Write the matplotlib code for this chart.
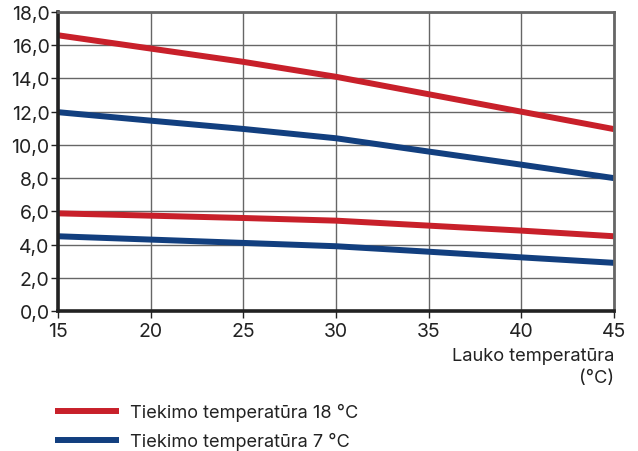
import matplotlib.pyplot as plt

plt.rcParams["font.family"] = ["Inter", "DejaVu Sans"]

# outdoor temperature (x) and the four curves
outdoor_temp = [15, 20, 25, 30, 35, 40, 45]
red_upper = [16.6, 15.8, 15.0, 14.1, 13.05, 12.0, 10.95]
red_lower = [5.88, 5.74, 5.6, 5.44, 5.14, 4.84, 4.5]
blue_upper = [11.97, 11.46, 10.96, 10.4, 9.6, 8.81, 8.0]
blue_lower = [4.5, 4.3, 4.1, 3.9, 3.57, 3.23, 2.9]

x_ticks = [15, 20, 25, 30, 35, 40, 45]
y_ticks = [0, 2, 4, 6, 8, 10, 12, 14, 16, 18]
labels = ["Tiekimo temperatūra 18 °C", "Tiekimo temperatūra 7 °C"]

red = "#c8202a"
blue = "#123f7f"

fig = plt.figure(figsize=(6.38, 4.52), dpi=100)
ax = fig.add_axes([0.0909, 0.3097, 0.8715, 0.6615])

ax.plot(outdoor_temp, red_upper, color=red, lw=4.3, solid_capstyle="butt", label=labels[0])
ax.plot(outdoor_temp, red_lower, color=red, lw=4.3, solid_capstyle="butt")
ax.plot(outdoor_temp, blue_upper, color=blue, lw=4.3, solid_capstyle="butt", label=labels[1])
ax.plot(outdoor_temp, blue_lower, color=blue, lw=4.3, solid_capstyle="butt")

ax.set_xlim(15, 45)
ax.set_ylim(0, 18)
ax.set_xticks(x_ticks)
ax.set_yticks(y_ticks)
ax.set_yticklabels([f"{v:.1f}".replace(".", ",") for v in y_ticks])
ax.tick_params(labelsize=14, colors="#222222", length=5, width=1)
ax.tick_params(axis="x", pad=3)
ax.tick_params(axis="y", pad=1)
ax.grid(True, color="#666666", lw=1)
ax.set_axisbelow(True)

for side in ["left", "bottom"]:
    ax.spines[side].set_linewidth(2.6)
    ax.spines[side].set_color("#222222")
for side in ["top", "right"]:
    ax.spines[side].set_linewidth(2.0)
    ax.spines[side].set_color("#666666")

fig.text(0.9624, 1 - 348 / 452, "Lauko temperatūra\n(°C)", ha="right", va="top",
         fontsize=13.2, color="#222222", linespacing=1.35)

fig.legend(loc="upper left", bbox_to_anchor=(55 / 638, 1 - 404 / 452), frameon=False,
           fontsize=13.1, handlelength=3.5, handletextpad=0.6, labelspacing=0.6,
           borderaxespad=0, borderpad=0, labelcolor="#222222")

fig.savefig("out.png", dpi=100)
